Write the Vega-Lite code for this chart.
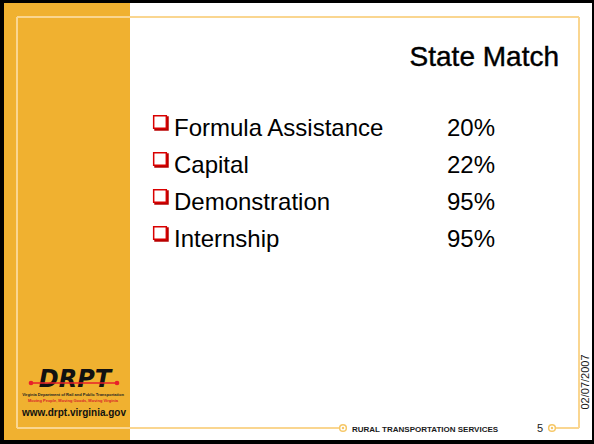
{
  "$schema": "https://vega.github.io/schema/vega-lite/v6.json",
  "width": 588,
  "height": 437,
  "autosize": "none",
  "padding": {"left": 4, "top": 3, "right": 2, "bottom": 4},
  "background": "#000000",
  "config": {"view": {"stroke": null, "fill": "#ffffff"}, "font": "Liberation Sans"},
  "datasets": {
    "items": [
      {"item": "Formula Assistance", "share": 0.20},
      {"item": "Capital", "share": 0.22},
      {"item": "Demonstration", "share": 0.95},
      {"item": "Internship", "share": 0.95}
    ]
  },
  "layer": [
    {
      "data": {"values": [{}]},
      "layer": [
        {"mark": {"type": "rect", "color": "#f0b130"},
         "encoding": {"x": {"datum": 4, "type": "quantitative", "scale": {"domain": [0, 594], "range": [-4, 590], "nice": false, "zero": false}, "axis": null}, "x2": {"datum": 130},
                      "y": {"datum": 3, "type": "quantitative", "scale": {"domain": [0, 444], "range": [-3, 441], "nice": false, "zero": false}, "axis": null}, "y2": {"datum": 440}}},
        {"mark": {"type": "rule", "color": "#fad690", "strokeWidth": 2},
         "encoding": {"x": {"datum": 17, "type": "quantitative", "scale": {"domain": [0, 594], "range": [-4, 590], "nice": false, "zero": false}, "axis": null}, "x2": {"datum": 579},
                      "y": {"datum": 17, "type": "quantitative", "scale": {"domain": [0, 444], "range": [-3, 441], "nice": false, "zero": false}, "axis": null}}},
        {"mark": {"type": "rule", "color": "#fad690", "strokeWidth": 2},
         "encoding": {"x": {"datum": 17, "type": "quantitative", "scale": {"domain": [0, 594], "range": [-4, 590], "nice": false, "zero": false}, "axis": null},
                      "y": {"datum": 17, "type": "quantitative", "scale": {"domain": [0, 444], "range": [-3, 441], "nice": false, "zero": false}, "axis": null}, "y2": {"datum": 428}}},
        {"mark": {"type": "rule", "color": "#fad690", "strokeWidth": 2},
         "encoding": {"x": {"datum": 579, "type": "quantitative", "scale": {"domain": [0, 594], "range": [-4, 590], "nice": false, "zero": false}, "axis": null},
                      "y": {"datum": 17, "type": "quantitative", "scale": {"domain": [0, 444], "range": [-3, 441], "nice": false, "zero": false}, "axis": null}, "y2": {"datum": 428}}},
        {"mark": {"type": "rule", "color": "#fad690", "strokeWidth": 2},
         "encoding": {"x": {"datum": 17, "type": "quantitative", "scale": {"domain": [0, 594], "range": [-4, 590], "nice": false, "zero": false}, "axis": null}, "x2": {"datum": 339},
                      "y": {"datum": 428, "type": "quantitative", "scale": {"domain": [0, 444], "range": [-3, 441], "nice": false, "zero": false}, "axis": null}}},
        {"mark": {"type": "rule", "color": "#fad690", "strokeWidth": 2},
         "encoding": {"x": {"datum": 556, "type": "quantitative", "scale": {"domain": [0, 594], "range": [-4, 590], "nice": false, "zero": false}, "axis": null}, "x2": {"datum": 579},
                      "y": {"datum": 428, "type": "quantitative", "scale": {"domain": [0, 444], "range": [-3, 441], "nice": false, "zero": false}, "axis": null}}},
        {"mark": {"type": "point", "shape": "circle", "filled": true, "fill": "#ffffff", "stroke": "#f6c766", "strokeWidth": 1.5, "size": 45, "opacity": 1},
         "encoding": {"x": {"datum": 343, "type": "quantitative", "scale": {"domain": [0, 594], "range": [-4, 590], "nice": false, "zero": false}, "axis": null},
                      "y": {"datum": 428, "type": "quantitative", "scale": {"domain": [0, 444], "range": [-3, 441], "nice": false, "zero": false}, "axis": null}}},
        {"mark": {"type": "point", "shape": "circle", "filled": true, "color": "#f6c766", "size": 6, "opacity": 1},
         "encoding": {"x": {"datum": 343, "type": "quantitative", "scale": {"domain": [0, 594], "range": [-4, 590], "nice": false, "zero": false}, "axis": null},
                      "y": {"datum": 428, "type": "quantitative", "scale": {"domain": [0, 444], "range": [-3, 441], "nice": false, "zero": false}, "axis": null}}},
        {"mark": {"type": "point", "shape": "circle", "filled": true, "fill": "#ffffff", "stroke": "#f6c766", "strokeWidth": 1.5, "size": 45, "opacity": 1},
         "encoding": {"x": {"datum": 552, "type": "quantitative", "scale": {"domain": [0, 594], "range": [-4, 590], "nice": false, "zero": false}, "axis": null},
                      "y": {"datum": 428, "type": "quantitative", "scale": {"domain": [0, 444], "range": [-3, 441], "nice": false, "zero": false}, "axis": null}}},
        {"mark": {"type": "point", "shape": "circle", "filled": true, "color": "#f6c766", "size": 6, "opacity": 1},
         "encoding": {"x": {"datum": 552, "type": "quantitative", "scale": {"domain": [0, 594], "range": [-4, 590], "nice": false, "zero": false}, "axis": null},
                      "y": {"datum": 428, "type": "quantitative", "scale": {"domain": [0, 444], "range": [-3, 441], "nice": false, "zero": false}, "axis": null}}},
        {"mark": {"type": "text", "text": "State Match", "align": "right", "baseline": "alphabetic", "fontSize": 28, "color": "#000000", "stroke": "#000000", "strokeWidth": 0.4},
         "encoding": {"x": {"datum": 559, "type": "quantitative", "scale": {"domain": [0, 594], "range": [-4, 590], "nice": false, "zero": false}, "axis": null},
                      "y": {"datum": 66, "type": "quantitative", "scale": {"domain": [0, 444], "range": [-3, 441], "nice": false, "zero": false}, "axis": null}}},
        {"mark": {"type": "text", "text": "RURAL TRANSPORTATION SERVICES", "align": "left", "baseline": "alphabetic", "fontSize": 8, "fontWeight": "bold", "color": "#1a1a1a"},
         "encoding": {"x": {"datum": 352, "type": "quantitative", "scale": {"domain": [0, 594], "range": [-4, 590], "nice": false, "zero": false}, "axis": null},
                      "y": {"datum": 432, "type": "quantitative", "scale": {"domain": [0, 444], "range": [-3, 441], "nice": false, "zero": false}, "axis": null}}},
        {"mark": {"type": "text", "text": "5", "align": "center", "baseline": "alphabetic", "fontSize": 11, "color": "#1a1a1a"},
         "encoding": {"x": {"datum": 540, "type": "quantitative", "scale": {"domain": [0, 594], "range": [-4, 590], "nice": false, "zero": false}, "axis": null},
                      "y": {"datum": 432, "type": "quantitative", "scale": {"domain": [0, 444], "range": [-3, 441], "nice": false, "zero": false}, "axis": null}}},
        {"mark": {"type": "text", "text": "02/07/2007", "align": "center", "baseline": "middle", "angle": 270, "fontSize": 11, "color": "#1a1a1a"},
         "encoding": {"x": {"datum": 586, "type": "quantitative", "scale": {"domain": [0, 594], "range": [-4, 590], "nice": false, "zero": false}, "axis": null},
                      "y": {"datum": 382, "type": "quantitative", "scale": {"domain": [0, 444], "range": [-3, 441], "nice": false, "zero": false}, "axis": null}}},
        {"mark": {"type": "text", "text": "DRPT", "align": "center", "baseline": "alphabetic", "fontSize": 24, "font": "DejaVu Sans", "fontWeight": "bold", "fontStyle": "italic", "color": "#111111"},
         "encoding": {"x": {"datum": 75, "type": "quantitative", "scale": {"domain": [0, 594], "range": [-4, 590], "nice": false, "zero": false}, "axis": null},
                      "y": {"datum": 387, "type": "quantitative", "scale": {"domain": [0, 444], "range": [-3, 441], "nice": false, "zero": false}, "axis": null}}},
        {"mark": {"type": "rule", "color": "#e8202a", "strokeWidth": 1.5},
         "encoding": {"x": {"datum": 31, "type": "quantitative", "scale": {"domain": [0, 594], "range": [-4, 590], "nice": false, "zero": false}, "axis": null}, "x2": {"datum": 117},
                      "y": {"datum": 383, "type": "quantitative", "scale": {"domain": [0, 444], "range": [-3, 441], "nice": false, "zero": false}, "axis": null}}},
        {"mark": {"type": "point", "shape": "circle", "filled": true, "color": "#e8202a", "size": 22, "opacity": 1},
         "encoding": {"x": {"datum": 31, "type": "quantitative", "scale": {"domain": [0, 594], "range": [-4, 590], "nice": false, "zero": false}, "axis": null},
                      "y": {"datum": 383, "type": "quantitative", "scale": {"domain": [0, 444], "range": [-3, 441], "nice": false, "zero": false}, "axis": null}}},
        {"mark": {"type": "point", "shape": "circle", "filled": true, "color": "#e8202a", "size": 22, "opacity": 1},
         "encoding": {"x": {"datum": 117, "type": "quantitative", "scale": {"domain": [0, 594], "range": [-4, 590], "nice": false, "zero": false}, "axis": null},
                      "y": {"datum": 383, "type": "quantitative", "scale": {"domain": [0, 444], "range": [-3, 441], "nice": false, "zero": false}, "axis": null}}},
        {"mark": {"type": "text", "text": "Virginia Department of Rail and Public Transportation", "align": "center", "baseline": "alphabetic", "fontSize": 4, "fontWeight": "bold", "color": "#222222"},
         "encoding": {"x": {"datum": 73, "type": "quantitative", "scale": {"domain": [0, 594], "range": [-4, 590], "nice": false, "zero": false}, "axis": null},
                      "y": {"datum": 396, "type": "quantitative", "scale": {"domain": [0, 444], "range": [-3, 441], "nice": false, "zero": false}, "axis": null}}},
        {"mark": {"type": "text", "text": "Moving People, Moving Goods, Moving Virginia", "align": "center", "baseline": "alphabetic", "fontSize": 4, "fontWeight": "bold", "color": "#d8232a"},
         "encoding": {"x": {"datum": 73, "type": "quantitative", "scale": {"domain": [0, 594], "range": [-4, 590], "nice": false, "zero": false}, "axis": null},
                      "y": {"datum": 401.5, "type": "quantitative", "scale": {"domain": [0, 444], "range": [-3, 441], "nice": false, "zero": false}, "axis": null}}},
        {"mark": {"type": "text", "text": "www.drpt.virginia.gov", "align": "center", "baseline": "alphabetic", "fontSize": 10, "fontWeight": "bold", "color": "#111111"},
         "encoding": {"x": {"datum": 74, "type": "quantitative", "scale": {"domain": [0, 594], "range": [-4, 590], "nice": false, "zero": false}, "axis": null},
                      "y": {"datum": 416, "type": "quantitative", "scale": {"domain": [0, 444], "range": [-3, 441], "nice": false, "zero": false}, "axis": null}}}
      ]
    },
    {
      "data": {"name": "items"},
      "encoding": {
        "y": {"field": "item", "type": "ordinal", "sort": null, "scale": {"type": "point", "range": [133, 244], "padding": 0}, "axis": null}
      },
      "layer": [
        {"mark": {"type": "point", "shape": "square", "filled": true, "color": "#b80000", "size": 210, "opacity": 1, "xOffset": 1.5, "yOffset": -12.5},
         "encoding": {"x": {"datum": 160, "type": "quantitative", "scale": {"domain": [0, 594], "range": [-4, 590], "nice": false, "zero": false}, "axis": null}}},
        {"mark": {"type": "point", "shape": "square", "filled": true, "fill": "#ffffff", "stroke": "#d90000", "strokeWidth": 1.5, "size": 160, "opacity": 1, "yOffset": -14},
         "encoding": {"x": {"datum": 160, "type": "quantitative", "scale": {"domain": [0, 594], "range": [-4, 590], "nice": false, "zero": false}, "axis": null}}},
        {"mark": {"type": "text", "align": "left", "baseline": "alphabetic", "fontSize": 24, "color": "#000000"},
         "encoding": {"x": {"datum": 174, "type": "quantitative", "scale": {"domain": [0, 594], "range": [-4, 590], "nice": false, "zero": false}, "axis": null},
                      "text": {"field": "item", "type": "nominal"}}},
        {"mark": {"type": "text", "align": "right", "baseline": "alphabetic", "fontSize": 24, "color": "#000000"},
         "encoding": {"x": {"datum": 495, "type": "quantitative", "scale": {"domain": [0, 594], "range": [-4, 590], "nice": false, "zero": false}, "axis": null},
                      "text": {"field": "share", "type": "quantitative", "format": ".0%"}}}
      ]
    }
  ],
  "resolve": {"scale": {"y": "independent"}}
}
